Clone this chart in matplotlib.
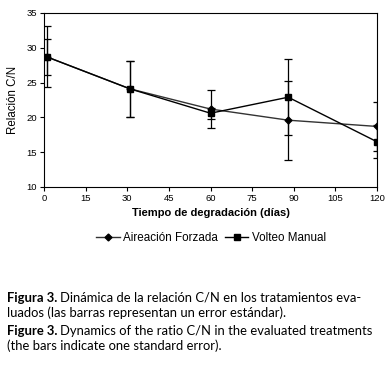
import matplotlib
matplotlib.use('Agg')
import matplotlib.pyplot as plt

days = [1, 31, 60, 88, 120]
aireacion = [28.7, 24.1, 21.2, 19.6, 18.7]
aireacion_err = [4.4, 4.0, 2.7, 5.7, 3.5]
volteo = [28.7, 24.1, 20.6, 22.9, 16.5]
volteo_err = [2.6, 4.0, 0.8, 5.5, 2.4]

xticks = list(range(0, 121, 15))
yticks = list(range(10, 36, 5))

plt.rcParams['font.family'] = ['Liberation Sans', 'DejaVu Sans']

fig = plt.figure(figsize=(3.92, 3.66), dpi=100)
ax = fig.add_axes([44 / 392, 1 - 187 / 366, 333 / 392, 174 / 366])

ax.errorbar(days, aireacion, yerr=aireacion_err, color='#333333', lw=1,
            marker='D', ms=3.5, mfc='black', mec='black',
            ecolor='black', elinewidth=0.9, capsize=2.8, capthick=0.9,
            label='Aireación Forzada')
ax.errorbar(days, volteo, yerr=volteo_err, color='black', lw=1,
            marker='s', ms=5, mfc='black', mec='black',
            ecolor='black', elinewidth=0.9, capsize=2.8, capthick=0.9,
            label='Volteo Manual')

ax.set_xlim(0, 120)
ax.set_ylim(10, 35)
ax.set_xticks(xticks)
ax.set_yticks(yticks)
ax.tick_params(labelsize=6.8, length=3, width=0.8, direction='out', pad=2)
for s in ax.spines.values():
    s.set_linewidth(0.8)
ax.set_xlabel('Tiempo de degradación (días)', fontsize=8, fontweight='bold', labelpad=4)
ax.set_ylabel('Relación C/N', fontsize=8.3, labelpad=5)

handles, labels = ax.get_legend_handles_labels()
handles = [h[0] for h in handles]
fig.legend(handles, labels, loc='center', bbox_to_anchor=(211 / 392, 1 - 238 / 366),
           ncol=2, frameon=False, fontsize=8.4, handlelength=2.0,
           handletextpad=0.3, columnspacing=0.6)

# caption
renderer = fig.canvas.get_renderer()
cap_font = ['Lato', 'DejaVu Sans']
cap_size = 9.4


def caption(y, bold, rest):
    x0 = 7 / 392
    t = fig.text(x0, y, bold, fontsize=cap_size, fontweight='bold', family=cap_font, va='baseline')
    bb = t.get_window_extent(renderer)
    fig.text((bb.x1 + 3) / 392, y, rest, fontsize=cap_size, family=cap_font, va='baseline')


caption(1 - 302 / 366, 'Figura 3.', 'Dinámica de la relación C/N en los tratamientos eva-')
fig.text(7 / 392, 1 - 317 / 366, 'luados (las barras representan un error estándar).',
         fontsize=cap_size, family=cap_font, va='baseline')
caption(1 - 335 / 366, 'Figure 3.', 'Dynamics of the ratio C/N in the evaluated treatments')
fig.text(7 / 392, 1 - 350 / 366, '(the bars indicate one standard error).',
         fontsize=cap_size, family=cap_font, va='baseline')

fig.savefig('out.png', dpi=100)
